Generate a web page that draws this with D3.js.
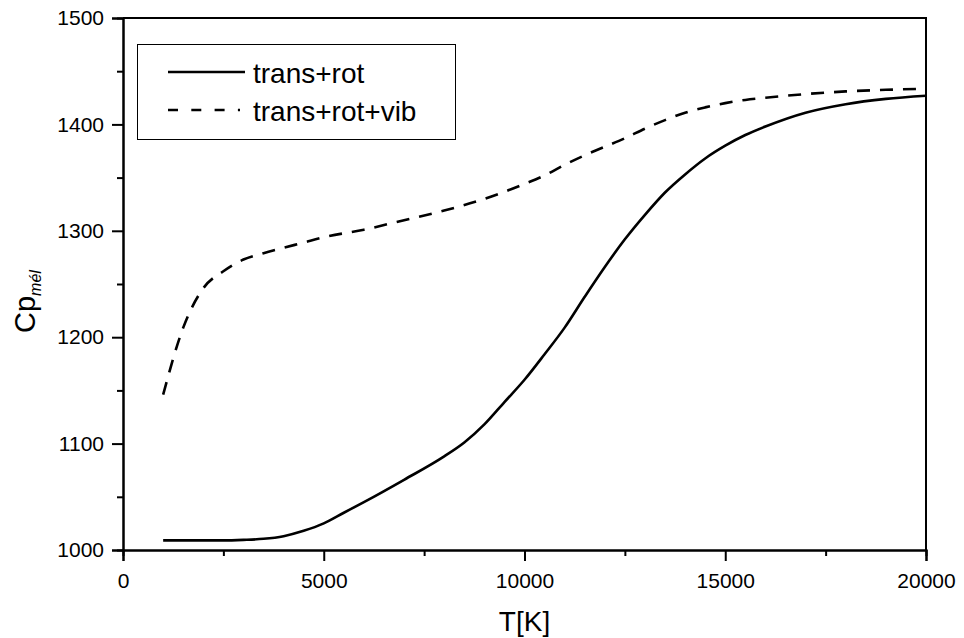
<!DOCTYPE html>
<html>
<head>
<meta charset="utf-8">
<script src="https://cdn.jsdelivr.net/npm/d3@7"></script>
<style>
  html, body { margin: 0; padding: 0; background: #fff; }
  svg { display: block; font-family: "Liberation Sans", Arial, sans-serif; }
</style>
</head>
<body>
<svg id="chart" width="964" height="638"></svg>
<script>
// Temperature grid (K)
const tempTransRot = [1000, 2000, 2500, 3000, 3500, 4000, 4500, 5000, 5500, 6000, 7000, 8000, 8500, 9000, 9500,
  10000, 10500, 11000, 11500, 12000, 12500, 13000, 13500, 14000, 14500, 15000, 15500, 16000, 17000, 18000, 19000, 20000];
// Cp of the mixture, translational + rotational contributions
const cpTransRot = [1009, 1009, 1009, 1009.5, 1010.5, 1013, 1018, 1025, 1035, 1045, 1066, 1088, 1101, 1118, 1139,
  1160, 1184, 1209, 1238, 1266, 1292, 1315, 1336, 1353, 1368, 1380, 1390, 1398, 1411, 1419, 1424, 1427];

const tempTransRotVib = [1000, 1500, 2000, 2500, 3000, 3500, 4000, 4500, 5000, 6000, 7000, 8000, 9000, 10000,
  10500, 11000, 11500, 12000, 12500, 13000, 13500, 14000, 14500, 15000, 15500, 16000, 17000, 18000, 19000, 20000];
// Cp of the mixture, translational + rotational + vibrational contributions
const cpTransRotVib = [1146, 1209, 1246, 1262, 1273, 1279, 1284, 1289, 1294, 1301, 1310, 1319, 1330, 1344,
  1352, 1362, 1371, 1379, 1387, 1396, 1404, 1411, 1416, 1420, 1423, 1425, 1428.5, 1431, 1432.5, 1433.5];

const xTicks = [0, 5000, 10000, 15000, 20000];
const xMinorTicks = [2500, 7500, 12500, 17500];
const yTicks = [1000, 1100, 1200, 1300, 1400, 1500];
const yMinorTicks = [1050, 1150, 1250, 1350, 1450];

const seriesNames = ["trans+rot", "trans+rot+vib"];

const svg = d3.select("#chart");
const plotLeft = 123, plotRight = 926, plotTop = 18, plotBottom = 550;

const x = d3.scaleLinear().domain([0, 20000]).range([plotLeft, plotRight]);
const y = d3.scaleLinear().domain([1000, 1500]).range([plotBottom, plotTop]);

// frame: top and right edges
svg.append("path")
  .attr("d", `M${plotLeft},${plotTop}H${plotRight}V${plotBottom}`)
  .attr("fill", "none").attr("stroke", "#000").attr("stroke-width", 2);

// x axis
const gx = svg.append("g").attr("transform", `translate(0,${plotBottom})`);
gx.call(d3.axisBottom(x).tickValues(xTicks).tickSize(11).tickPadding(12).tickFormat(d3.format("d")));
gx.append("g").call(d3.axisBottom(x).tickValues(xMinorTicks).tickSize(6).tickFormat(""));

// y axis
const gy = svg.append("g").attr("transform", `translate(${plotLeft},0)`);
gy.call(d3.axisLeft(y).tickValues(yTicks).tickSize(11).tickPadding(8).tickFormat(d3.format("d")));
gy.append("g").call(d3.axisLeft(y).tickValues(yMinorTicks).tickSize(6).tickFormat(""));

svg.selectAll(".domain").attr("stroke", "#000").attr("stroke-width", 2);
svg.selectAll(".tick line").attr("stroke", "#000").attr("stroke-width", 2);
svg.selectAll(".tick text").attr("fill", "#000").style("font-size", "21px")
  .style("font-family", "'Liberation Sans', Arial, sans-serif");

// curves
const line = d3.line().x(d => x(d[0])).y(d => y(d[1])).curve(d3.curveMonotoneX);

svg.append("path")
  .datum(d3.zip(tempTransRot, cpTransRot))
  .attr("d", line)
  .attr("fill", "none").attr("stroke", "#000").attr("stroke-width", 2.6);

svg.append("path")
  .datum(d3.zip(tempTransRotVib, cpTransRotVib))
  .attr("d", line)
  .attr("fill", "none").attr("stroke", "#000").attr("stroke-width", 2.6)
  .attr("stroke-dasharray", "13,10");

// legend
const legend = svg.append("g");
legend.append("rect")
  .attr("x", 137.5).attr("y", 44.5).attr("width", 318).attr("height", 95)
  .attr("fill", "#fff").attr("stroke", "#000").attr("stroke-width", 1);
const rows = [{ y: 72, dash: null }, { y: 110, dash: "10,13.3" }];
rows.forEach((r, i) => {
  legend.append("line")
    .attr("x1", 168).attr("x2", r.dash ? 240 : 245)
    .attr("y1", r.y).attr("y2", r.y)
    .attr("stroke", "#000").attr("stroke-width", 2.6)
    .attr("stroke-dasharray", r.dash);
  legend.append("text")
    .attr("x", 253).attr("y", r.y + 11)
    .style("font-size", "28px").attr("fill", "#000")
    .text(seriesNames[i]);
});

// axis titles
svg.append("text")
  .attr("x", (plotLeft + plotRight) / 2).attr("y", 631)
  .attr("text-anchor", "middle")
  .style("font-size", "28px")
  .text("T[K]");

const yTitle = svg.append("text")
  .attr("transform", "translate(35,333) rotate(-90)")
  .attr("text-anchor", "start")
  .style("font-size", "29px");
yTitle.append("tspan").text("Cp");
yTitle.append("tspan")
  .attr("dy", 6)
  .style("font-size", "16px").style("font-style", "italic")
  .text("mél");
</script>
</body>
</html>
